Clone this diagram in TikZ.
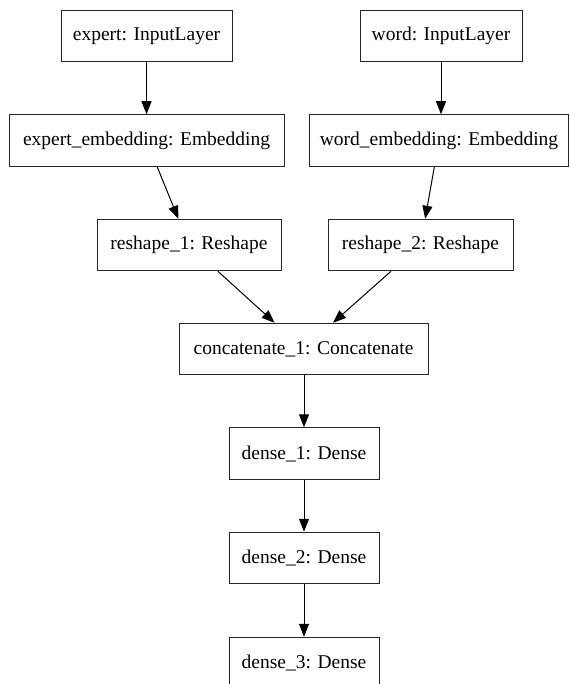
\documentclass[tikz,border=0pt]{standalone}
\usepackage{fontspec}
\setmainfont{Liberation Serif}
\usetikzlibrary{arrows.meta}
\begin{document}
\begin{tikzpicture}[x=1pt,y=-1pt,
  layer/.style={draw=black!85,line width=1pt,rectangle,inner sep=0pt,minimum height=51.5pt,font=\fontsize{19.5}{22}\selectfont},
  edge/.style={line width=1pt,-{Triangle[length=13pt,width=10pt]}}]
\useasboundingbox (0,0) rectangle (570,684);
\node[layer,minimum width=171pt] (expert) at (146.5,36) {expert: InputLayer};
\node[layer,minimum width=162pt] (word) at (441,36) {word: InputLayer};
\node[layer,minimum width=275pt] (eemb) at (146.5,140.5) {expert\_embedding: Embedding};
\node[layer,minimum width=259pt] (wemb) at (439,140.5) {word\_embedding: Embedding};
\node[layer,minimum width=184pt] (r1) at (189,245) {reshape\_1: Reshape};
\node[layer,minimum width=185pt] (r2) at (420.5,245) {reshape\_2: Reshape};
\node[layer,minimum width=249pt] (cat) at (303.5,349) {concatenate\_1: Concatenate};
\node[layer,minimum width=150pt] (d1) at (304,453.5) {dense\_1: Dense};
\node[layer,minimum width=150pt] (d2) at (304,558) {dense\_2: Dense};
\node[layer,minimum width=150pt] (d3) at (304,663) {dense\_3: Dense};
\draw[edge] (expert) -- (eemb);
\draw[edge] (word.south) -- (word.south |- wemb.north);
\draw[edge] (eemb) -- (r1);
\draw[edge] (wemb) -- (r2);
\draw[edge] (r1) -- (cat);
\draw[edge] (r2) -- (cat);
\draw[edge] (d1.north |- cat.south) -- (d1.north);
\draw[edge] (d1) -- (d2);
\draw[edge] (d2) -- (d3);
\end{tikzpicture}
\end{document}
